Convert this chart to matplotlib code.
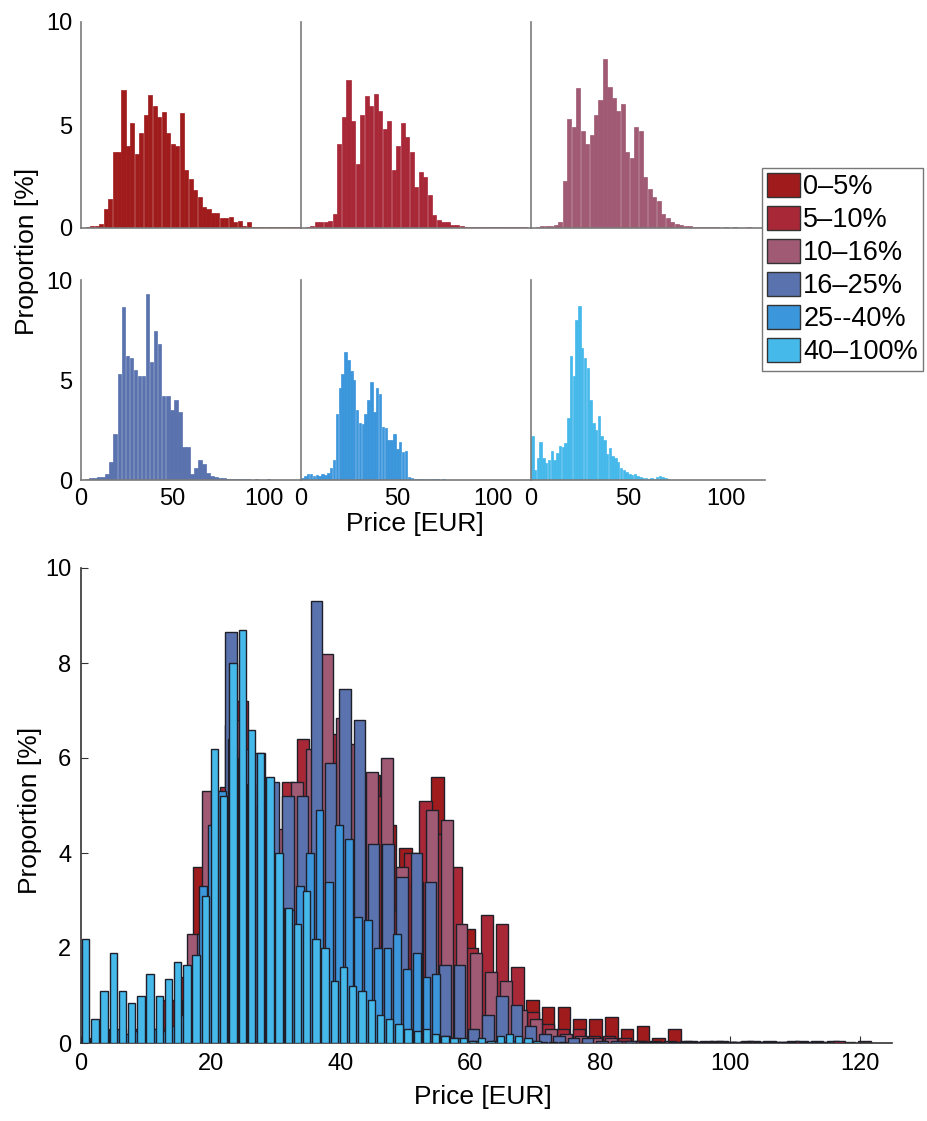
import numpy as np
import matplotlib.pyplot as plt
from matplotlib.patches import Patch

plt.rcParams['font.family'] = ['Liberation Sans', 'DejaVu Sans']

labels = ["0–5%", "5–10%", "10–16%", "16–25%", "25--40%", "40–100%"]
colors = ["#a01c1c", "#a82838", "#a05a73", "#5a73ae", "#3c96dc", "#46b9eb"]

# each group was binned into 50 equal bins from 0 up to its own max price
price_hi = [122.0, 118.0, 115.0, 110.0, 75.0, 71.0]
n_bins = 50

share_0_5 = [0.0, 0.05, 0.1, 0.1, 0.2, 0.9, 1.4, 3.7, 3.7, 6.7,
             4.0, 5.1, 3.6, 4.6, 5.5, 6.45, 5.9, 5.4, 5.65, 4.6,
             4.1, 4.0, 5.6, 2.8, 2.4, 1.85, 1.5, 1.0, 0.9, 0.75,
             0.75, 0.5, 0.5, 0.55, 0.3, 0.35, 0.1, 0.3, 0.05, 0.04,
             0.05, 0.03, 0.05, 0.04, 0.03, 0.05, 0.04, 0.05, 0.03, 0.05]
share_5_10 = [0.0, 0.05, 0.1, 0.3, 0.3, 0.3, 0.35, 0.7, 4.1, 5.4,
              7.2, 5.2, 3.1, 5.5, 6.4, 5.9, 6.5, 5.7, 4.8, 5.2,
              2.8, 4.0, 5.1, 4.4, 3.7, 2.0, 2.7, 2.5, 1.6, 0.65,
              0.4, 0.3, 0.3, 0.15, 0.15, 0.1, 0.05, 0.05, 0.03, 0.05,
              0.03, 0.04, 0.03, 0.05, 0.03, 0.03, 0.04, 0.03, 0.03, 0.04]
share_10_16 = [0.0, 0.05, 0.1, 0.1, 0.1, 0.15, 0.3, 2.3, 5.3, 4.9,
               6.8, 4.7, 4.1, 4.5, 5.5, 6.2, 8.2, 6.85, 6.3, 5.7,
               6.0, 3.7, 3.4, 4.9, 4.7, 2.5, 1.9, 1.5, 1.3, 0.7,
               0.5, 0.3, 0.2, 0.15, 0.1, 0.1, 0.05, 0.05, 0.03, 0.04,
               0.03, 0.03, 0.02, 0.03, 0.02, 0.03, 0.02, 0.02, 0.03, 0.02]
share_16_25 = [0.0, 0.05, 0.1, 0.1, 0.15, 0.15, 0.3, 0.9, 2.3, 5.3,
               8.65, 6.2, 6.1, 5.5, 5.2, 5.2, 9.3, 5.9, 7.45, 6.8,
               4.2, 4.2, 3.5, 4.0, 3.4, 1.65, 1.65, 0.3, 0.6, 1.0,
               0.8, 0.35, 0.2, 0.15, 0.1, 0.1, 0.05, 0.05, 0.04, 0.03,
               0.03, 0.03, 0.02, 0.03, 0.02, 0.02, 0.03, 0.02, 0.02, 0.02]
share_25_40 = [0.1, 0.2, 0.3, 0.3, 0.2, 0.25, 0.2, 0.3, 0.25, 0.35,
               0.6, 1.0, 3.3, 4.6, 5.3, 6.4, 6.0, 5.45, 5.0, 3.5,
               2.85, 2.8, 3.3, 4.0, 4.9, 3.4, 4.6, 4.3, 2.65, 2.6,
               2.0, 2.0, 2.3, 1.55, 1.9, 1.4, 1.45, 0.15, 0.1, 0.05,
               0.05, 0.03, 0.05, 0.03, 0.04, 0.03, 0.05, 0.03, 0.02, 0.03]
share_40_100 = [2.2, 0.5, 1.1, 1.9, 1.1, 0.85, 1.0, 1.45, 1.0, 1.35,
                1.7, 1.65, 1.85, 3.1, 6.2, 5.2, 8.0, 8.7, 6.6, 6.1,
                5.6, 4.0, 2.85, 2.5, 3.2, 2.2, 2.0, 1.3, 1.6, 1.2,
                1.1, 0.9, 0.6, 0.5, 0.4, 0.3, 0.25, 0.3, 0.2, 0.15,
                0.1, 0.1, 0.05, 0.1, 0.05, 0.15, 0.2, 0.15, 0.1, 0.05]

shares = [share_0_5, share_5_10, share_10_16, share_16_25, share_25_40, share_40_100]


def bin_centers(hi):
    edges = np.linspace(0, hi, n_bins + 1)
    return (edges[:-1] + edges[1:]) / 2, hi / n_bins


W, H = 927, 1121
fig = plt.figure(figsize=(W / 100, H / 100), dpi=100)


def box(l, t, r, b):
    return [l / W, 1 - b / H, (r - l) / W, (b - t) / H]


# small multiples, one per group
col_x = [(81, 301), (301, 531), (531, 765)]
row_y = [(22, 228), (280, 480)]
for i, (vals, col) in enumerate(zip(shares, colors)):
    r, c = divmod(i, 3)
    ax = fig.add_axes(box(col_x[c][0], row_y[r][0], col_x[c][1], row_y[r][1]))
    x, w = bin_centers(price_hi[i])
    ax.bar(x, vals, width=w * 0.9, color=col, edgecolor=col, linewidth=0.5)
    ax.set_xlim(0, 120)
    ax.set_ylim(0, 10)
    ax.patch.set_alpha(0)
    for s in ["top", "right"]:
        ax.spines[s].set_visible(False)
    for s in ["left", "bottom"]:
        ax.spines[s].set_color("#7a7a7a")
        ax.spines[s].set_linewidth(1.2)
    ax.set_yticks([0, 5, 10])
    ax.set_xticks([0, 50, 100])
    ax.tick_params(length=0, labelsize=17, pad=6)
    if c > 0:
        ax.set_yticklabels([])
    if r == 0:
        ax.set_xticklabels([])

fig.text(27 / W, 1 - 251 / H, "Proportion [%]", rotation=90, ha="center", va="center", fontsize=19)
fig.text(415 / W, 1 - 524 / H, "Price [EUR]", ha="center", va="center", fontsize=19)

handles = [Patch(facecolor=c, edgecolor="#333333", linewidth=1) for c in colors]
fig.legend(handles, labels, loc="upper left", bbox_to_anchor=(762 / W, 1 - 168 / H),
           borderaxespad=0, fontsize=19.5, fancybox=False, edgecolor="#777777",
           handlelength=1.2, handleheight=0.95, handletextpad=0.12,
           labelspacing=0.22, borderpad=0.2, framealpha=1)

# all groups overlaid
ax = fig.add_axes(box(81, 568, 892, 1043))
for i, (vals, col) in enumerate(zip(shares, colors)):
    x, w = bin_centers(price_hi[i])
    ax.bar(x, vals, width=w * 0.8, color=col, edgecolor="#1f1f2a", linewidth=1.0, zorder=2 + i)
ax.set_xlim(0, 125)
ax.set_ylim(0, 10)
ax.set_xticks(range(0, 121, 20))
ax.set_yticks(range(0, 11, 2))
for s in ["top", "right"]:
    ax.spines[s].set_visible(False)
for s in ["left", "bottom"]:
    ax.spines[s].set_color("#333333")
    ax.spines[s].set_linewidth(1.2)
ax.tick_params(direction="in", length=5, labelsize=17, pad=7, color="#333333")

fig.text(483 / W, 1 - 1097 / H, "Price [EUR]", ha="center", va="center", fontsize=19)
fig.text(30 / W, 1 - 810 / H, "Proportion [%]", rotation=90, ha="center", va="center", fontsize=19)

fig.savefig("out.png", dpi=100)
